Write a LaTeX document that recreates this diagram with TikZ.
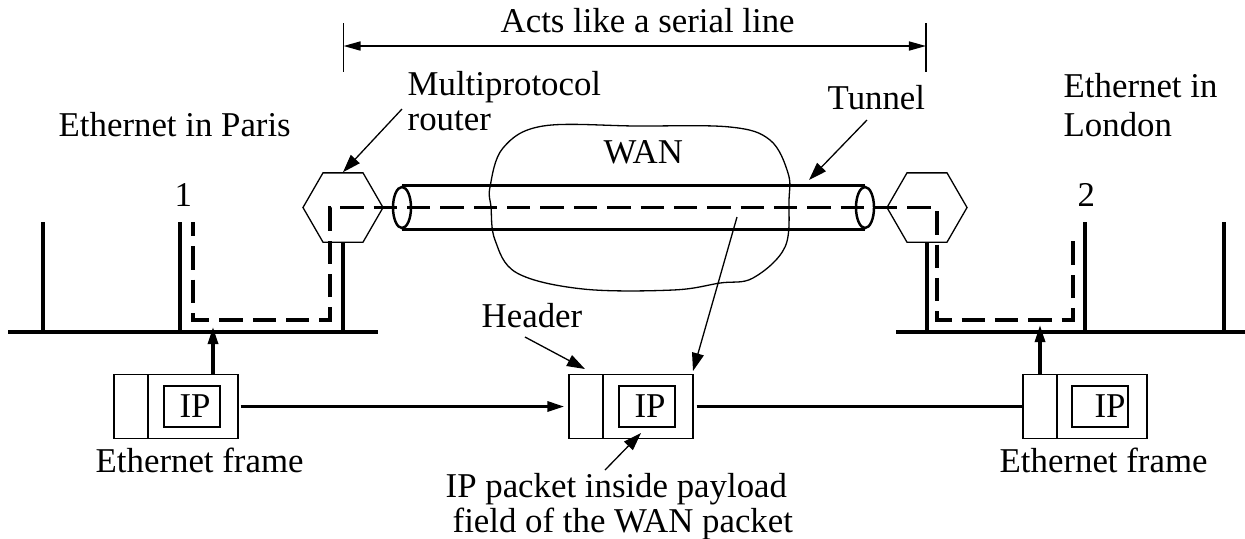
\documentclass[tikz,border=0pt]{standalone}
\usepackage{fontspec}
\setmainfont{Liberation Serif}
\usetikzlibrary{arrows.meta,shapes}
\tikzstyle{thinline}=[draw,line width=0.37pt]
\tikzstyle{wire}=[draw,line width=0.9pt]
\tikzstyle{dedge}=[wire,-{Triangle[length=0.17cm,width=0.1cm]}]
\tikzstyle{ledge}=[draw,line width=0.37pt,-{Triangle[length=0.18cm,width=0.12cm]}]
\tikzstyle{route}=[wire,dash pattern=on 0.2333cm off 0.1cm,dash phase=0.09cm]
\tikzset{
  label/.style = {inner sep=0pt, anchor=base west, font=\fontsize{9.9}{12}\selectfont},
  hexnode/.style = {regular polygon, regular polygon sides=6, draw, line width=0.37pt, inner sep=0pt, minimum size=0.8cm},
  tubeend/.style = {ellipse, draw, line width=0.7pt, inner sep=0pt, minimum width=0.18cm, minimum height=0.41cm},
  hdrbox/.style = {rectangle, draw, line width=0.37pt, inner sep=0pt, minimum width=0.34cm, minimum height=0.64cm},
  paybox/.style = {rectangle, draw, line width=0.37pt, inner sep=0pt, minimum width=0.9cm, minimum height=0.64cm},
  ipbox/.style = {rectangle, draw, line width=0.37pt, inner sep=0pt, minimum width=0.56cm, minimum height=0.41cm, font=\fontsize{9.9}{12}\selectfont},
}
\begin{document}
\begin{tikzpicture}[x=0.01cm,y=-0.01cm]
    \useasboundingbox (0,0) rectangle (1245,538);

    % routers and tunnel
    \node[hexnode] (hexL) at (343,207.5) {};
    \node[hexnode] (hexR) at (927,207.5) {};
    \node[tubeend] (endL) at (402,207.5) {};
    \node[tubeend] (endR) at (865,207.5) {};
    \path[wire] (endL.north) -- (endR.north);
    \path[wire] (endL.south) -- (endR.south);
    \path[wire] (hexL.east) -- (endL.west);
    \path[wire] (endR.east) -- (hexR.west);

    % WAN cloud
    \path[thinline] plot[smooth cycle,tension=0.6] coordinates {(490,187) (503,148) (543,126) (637,126) (730,127) (770,140) (788,173) (789,200) (785,247) (753,278) (720,283) (673,290) (583,289) (517,273) (495,240) (491,207)};

    % Ethernets
    \coordinate (etherLa) at (8,332);
    \coordinate (etherLb) at (378,332);
    \coordinate (etherRa) at (896,332);
    \coordinate (etherRb) at (1245,332);
    \coordinate (stubA) at (43,222);
    \coordinate (stubB) at (180,222);
    \coordinate (stubC) at (1085,222);
    \coordinate (stubD) at (1224,222);
    \path[wire] (etherLa) -- (etherLb);
    \path[wire] (etherRa) -- (etherRb);
    \path[wire] (stubA) -- (stubA |- etherLa);
    \path[wire] (stubB) -- (stubB |- etherLa);
    \path[wire] (hexL.south) -- (hexL.south |- etherLa);
    \path[wire] (hexR.south) -- (hexR.south |- etherRa);
    \path[wire] (stubC) -- (stubC |- etherRa);
    \path[wire] (stubD) -- (stubD |- etherRa);

    % path of the packet
    \coordinate (routeA) at (193,222);
    \coordinate (routeB) at (193,320);
    \coordinate (routeC) at (330,320);
    \coordinate (routeD) at (330,207.5);
    \coordinate (routeE) at (937,207.5);
    \coordinate (routeF) at (937,320);
    \coordinate (routeG) at (1073,320);
    \coordinate (routeH) at (1073,241);
    \path[route] (routeA) -- (routeB) -- (routeC) -- (routeD) -- (routeE) -- (routeF) -- (routeG) -- (routeH);

    % packets
    \node[hdrbox] (hdrL) at (131,406.5) {};
    \node[paybox] (payL) at (193,406.5) {};
    \node[ipbox] (ipL) at (192,406.5) {\hspace{0.06cm}IP};
    \node[hdrbox] (hdrM) at (586,406.5) {};
    \node[paybox] (payM) at (648,406.5) {};
    \node[ipbox] (ipM) at (647,406.5) {\hspace{0.06cm}IP};
    \node[hdrbox] (hdrR) at (1040,406.5) {};
    \node[paybox] (payR) at (1102,406.5) {};
    \node[ipbox] (ipR) at (1100,406.5) {\hspace{0.2cm}IP};
    \coordinate (tipL) at (213,327);
    \coordinate (tipR) at (1040,325);
    \path[dedge] (tipL |- payL.north) -- (tipL);
    \path[dedge] (hdrR.north) -- (tipR);
    \path[dedge,shorten <=0.02cm,shorten >=0.04cm] (payL.east) -- (hdrM.west);
    \path[wire,shorten <=0.03cm] (payM.east) -- (hdrR.west);

    % labels
    \node[label] (acts) at (500,32) {Acts like a serial line};
    \node[label] (multi) at (407,95) {Multiprotocol};
    \node[label] (router) at (407,130) {router};
    \node[label] (paris) at (58,136) {Ethernet in Paris};
    \node[label] (tunnel) at (827,109) {Tunnel};
    \node[label] (ethin) at (1063,97) {Ethernet in};
    \node[label] (london) at (1063,136) {London};
    \node[label] (wan) at (603,163) {WAN};
    \node[label] (one) at (174,206) {1};
    \node[label] (two) at (1077,206) {2};
    \node[label] (header) at (481,327) {Header};
    \node[label] (frameL) at (95,472) {Ethernet frame};
    \node[label] (frameR) at (999,472) {Ethernet frame};
    \node[label] (inside) at (445,497) {IP packet inside payload};
    \node[label] (field) at (452,532) {field of the WAN packet};

    % span of the serial line
    \coordinate (spanA) at (343.5,46);
    \coordinate (spanB) at (926,46);
    \path[thinline] (343.5,23) -- (343.5,72);
    \path[thinline] (926,23) -- (926,72);
    \path[draw,line width=0.45pt,{Triangle[length=0.17cm,width=0.09cm]}-{Triangle[length=0.17cm,width=0.09cm]}] (spanA) -- (spanB);

    % pointers
    \coordinate (routerTail) at (402,109);
    \coordinate (tunnelTail) at (867,120);
    \coordinate (tunnelTip) at (809,180);
    \coordinate (headerTail) at (525,337);
    \coordinate (headerTip) at (585,369);
    \coordinate (wanTail) at (737,217);
    \coordinate (wanTip) at (693,371);
    \coordinate (insideTail) at (605,470);
    \coordinate (insideTip) at (641,433);
    \path[ledge] (routerTail) -- (hexL.north);
    \path[ledge] (tunnelTail) -- (tunnelTip);
    \path[ledge] (headerTail) -- (headerTip);
    \path[ledge] (wanTail) -- (wanTip);
    \path[ledge] (insideTail) -- (insideTip);
\end{tikzpicture}
\end{document}
